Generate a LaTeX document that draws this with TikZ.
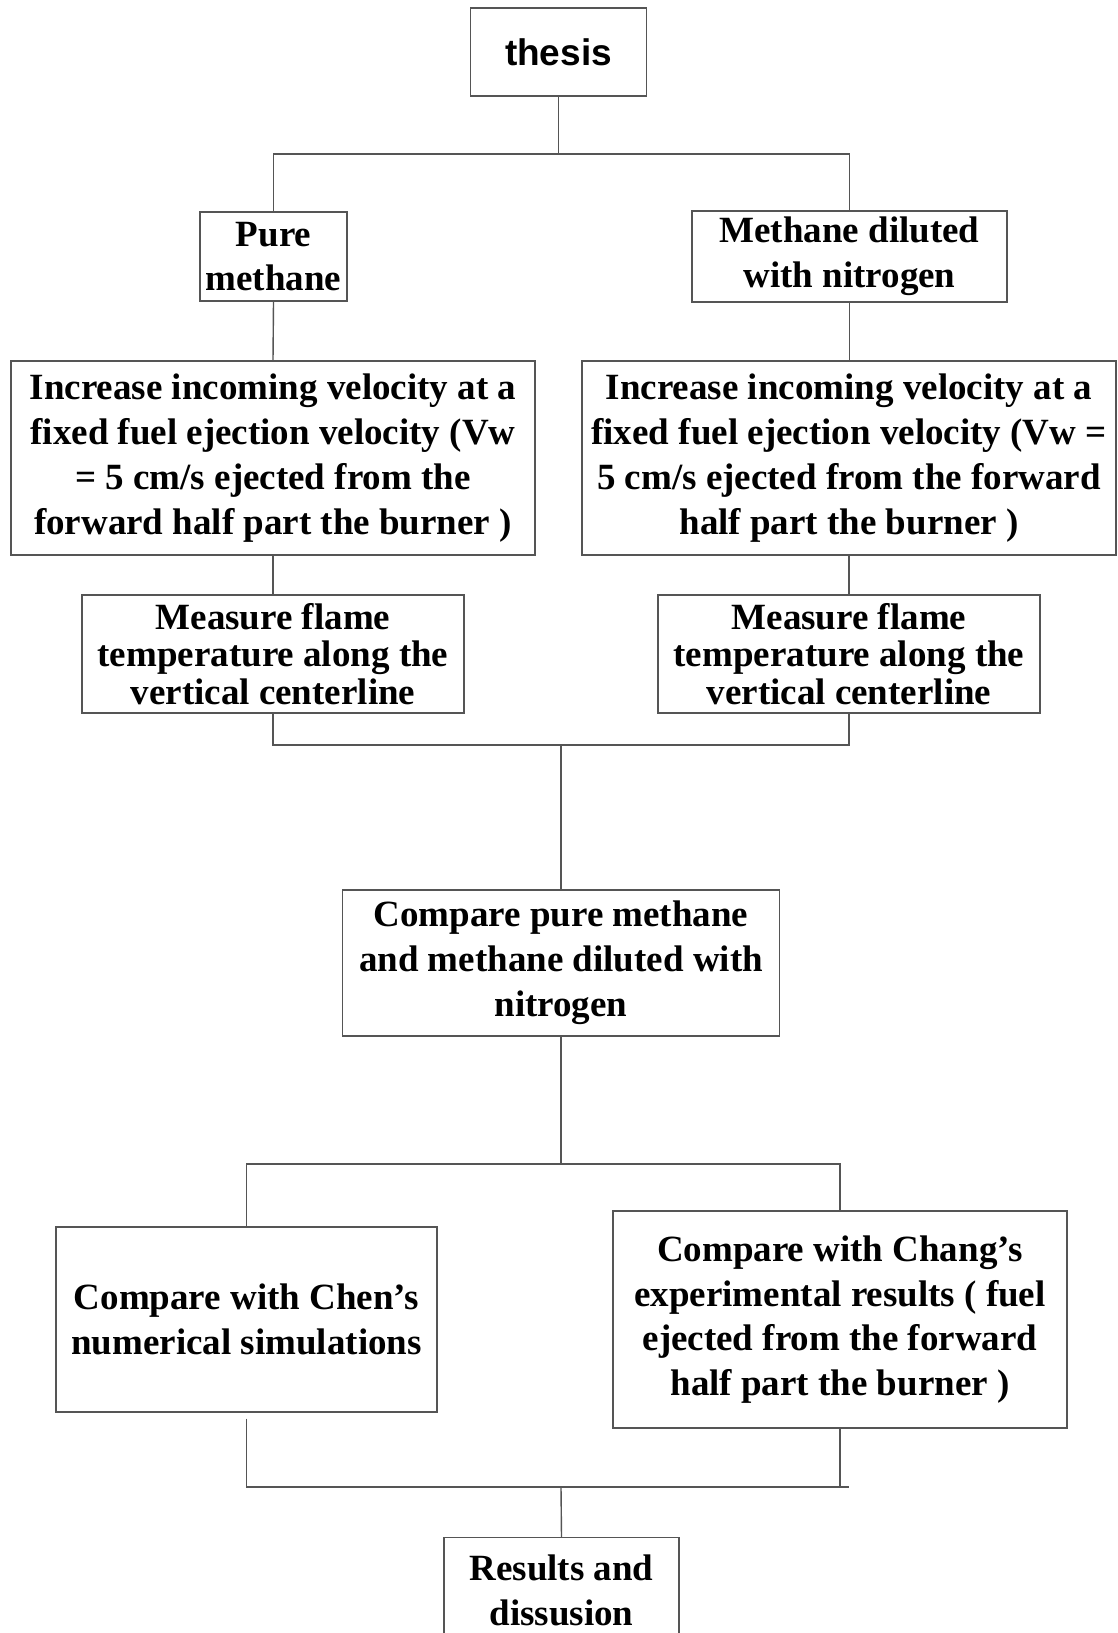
\documentclass[tikz,border=0pt]{standalone}
\usepackage{fontspec}
\setmainfont{Liberation Serif}
\newfontfamily\headsans{Liberation Sans}
\definecolor{ln}{RGB}{85,85,85}
\begin{document}
\begin{tikzpicture}[x=1pt,y=-1pt,
  box/.style={draw=ln,line width=1.4pt,align=center,inner sep=0pt,
    font=\bfseries\fontsize{37}{44.8}\selectfont,text=black},
  tight/.style={font=\bfseries\fontsize{37}{37.5}\selectfont},
  conn/.style={draw=ln,line width=1.4pt}]
\useasboundingbox[fill=white] (0,0) rectangle (1117,1633);
\clip (0,0) rectangle (1117,1633);
\node[box,font=\headsans\bfseries\fontsize{37}{44.8}\selectfont,minimum width=176pt,minimum height=88pt] (thesis) at (558.5,52) {thesis};
\node[box,minimum width=147pt,minimum height=89pt] (pure) at (273.5,256.5) {Pure\\methane};
\node[box,minimum width=315pt,minimum height=91pt] (dil) at (849.5,256.5) {Methane diluted\\with nitrogen};
\node[box,minimum width=524pt,minimum height=194pt] (incL) at (273,458) {Increase incoming velocity at a\\fixed fuel ejection velocity (Vw\\= 5 cm/s ejected from the\\forward half part the burner )};
\node[box,minimum width=534pt,minimum height=194pt] (incR) at (849,458) {Increase incoming velocity at a\\fixed fuel ejection velocity (Vw =\\5 cm/s ejected from the forward\\half part the burner )};
\node[box,tight,minimum width=382pt,minimum height=118pt] (measL) at (273,654) {Measure flame\\temperature along the\\vertical centerline};
\node[box,tight,minimum width=382pt,minimum height=118pt] (measR) at (849,654) {Measure flame\\temperature along the\\vertical centerline};
\node[box,minimum width=437pt,minimum height=146pt] (cmp) at (561,963) {Compare pure methane\\and methane diluted with\\nitrogen};
\node[box,minimum width=381pt,minimum height=185pt] (chen) at (246.5,1319.5) {Compare with Chen’s\\numerical simulations};
\node[box,minimum width=454pt,minimum height=217pt] (chang) at (840,1319.5) {Compare with Chang’s\\experimental results ( fuel\\ejected from the forward\\half part the burner )};
\node[box,minimum width=235pt,minimum height=106pt,anchor=north] (res) at (561.5,1537) {Results and\\dissusion};
% connectors
\coordinate (j1) at (558.5,154);
\draw[conn] (thesis.south) -- (thesis.south |- j1);
\draw[conn] (pure.north) -- (pure.north |- j1) -- (dil.north |- j1) -- (dil.north);
\draw[conn] (pure.south) -- (incL.north);
\draw[conn] (dil.south) -- (dil.south |- incR.north);
\draw[conn] (incL.south) -- (measL.north);
\draw[conn] (incR.south) -- (measR.north);
\coordinate (j2) at (561,745);
\draw[conn] (measL.south) -- (measL.south |- j2) -- (measR.south |- j2) -- (measR.south);
\draw[conn] (j2) -- (cmp.north);
\coordinate (j3) at (561,1164);
\draw[conn] (cmp.south) -- (j3);
\draw[conn] (chen.north) -- (chen.north |- j3) -- (chang.north |- j3) -- (chang.north);
\coordinate (j4) at (561,1487);
\coordinate (j4e) at (849,1487);
\draw[conn] ([yshift=-6pt]chen.south) -- (chen.south |- j4) -- (j4e);
\draw[conn] (chang.south) -- (chang.south |- j4);
\draw[conn] (j4) -- (res.north);
\end{tikzpicture}
\end{document}
